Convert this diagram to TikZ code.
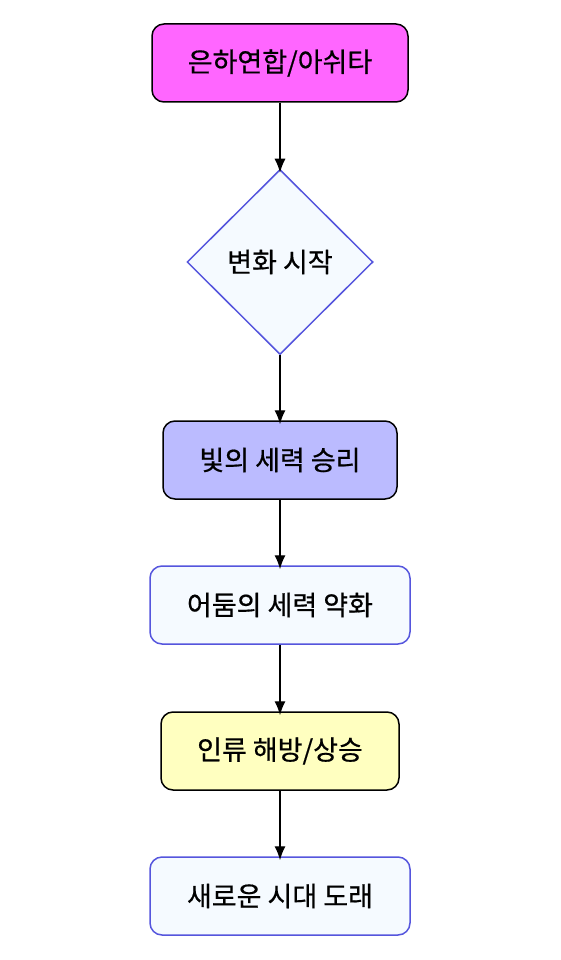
\documentclass[tikz,border=0pt]{standalone}
\usepackage{fontspec}
\setmainfont{Noto Sans CJK KR}[BoldFont={Noto Sans CJK KR}, BoldFeatures={FakeBold=0.6}]
\usetikzlibrary{shapes.geometric, arrows.meta}
\definecolor{magentabox}{HTML}{FF66FF}
\definecolor{lightbox}{HTML}{F5FAFF}
\definecolor{bluebox}{HTML}{BBBBFF}
\definecolor{yellowbox}{HTML}{FFFFC0}
\definecolor{blueline}{HTML}{5555DD}
\tikzset{
  flowbox/.style={draw=black, rounded corners=12pt, minimum height=78pt, align=center, font=\fontsize{27}{32}\selectfont\bfseries, line width=1.5pt},
  softbox/.style={flowbox, draw=blueline, fill=lightbox},
  decision/.style={diamond, draw=blueline, fill=lightbox, line width=1.5pt, minimum width=186pt, minimum height=185pt, inner sep=0pt, font=\fontsize{27}{32}\selectfont\bfseries},
  flowarrow/.style={-{Latex[length=14pt, width=11pt]}, line width=1.4pt}
}
\begin{document}
\begin{tikzpicture}[x=1pt, y=-1pt]
		\useasboundingbox (0, 0) rectangle (560, 960);
		\node [flowbox, fill=magentabox, minimum width=256pt] (galactic) at (280, 63) {은하연합/아쉬타};
		\node [decision] (change) at (280, 262) {변화 시작};
		\node [flowbox, fill=bluebox, minimum width=234pt] (light) at (280, 460) {빛의 세력 승리};
		\node [softbox, minimum width=260pt] (dark) at (280, 605) {어둠의 세력 약화};
		\node [flowbox, fill=yellowbox, minimum width=238pt] (liberation) at (280, 751) {인류 해방/상승};
		\node [softbox, minimum width=260pt] (newage) at (280, 896) {새로운 시대 도래};
		\draw [flowarrow] (galactic) -- ([yshift=-4pt]change.north);
		\draw [flowarrow] (change) -- ([yshift=-4pt]light.north);
		\draw [flowarrow] (light) -- ([yshift=-4pt]dark.north);
		\draw [flowarrow] (dark) -- ([yshift=-4pt]liberation.north);
		\draw [flowarrow] (liberation) -- ([yshift=-4pt]newage.north);
	\end{tikzpicture}
\end{document}
